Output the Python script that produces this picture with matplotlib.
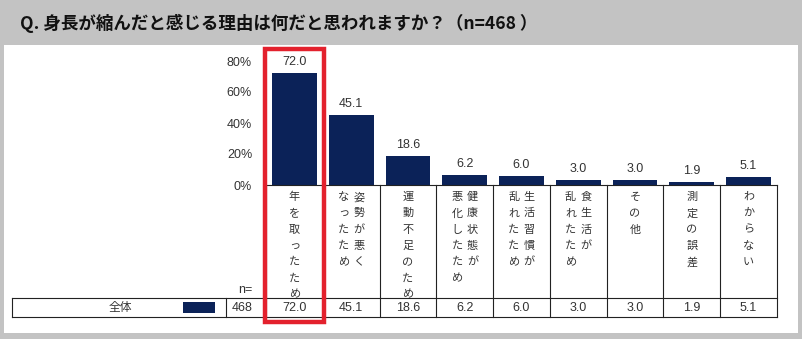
import matplotlib
matplotlib.use("Agg")
import matplotlib.pyplot as plt
import matplotlib.transforms as mtransforms
from matplotlib.patches import Rectangle

plt.rcParams["font.family"] = ["Liberation Sans", "Noto Sans CJK JP"]

title = "Q. 身長が縮んだと感じる理由は何だと思われますか？（n=468 ）"
# vertical labels: each line is one text column, read right to left
labels = ["年を取ったため", "姿勢が悪く\nなったため", "運動不足のため", "健康状態が\n悪化したため",
          "生活習慣が\n乱れたため", "食生活が\n乱れたため", "その他", "測定の誤差", "わからない"]
values = [72.0, 45.1, 18.6, 6.2, 6.0, 3.0, 3.0, 1.9, 5.1]
yticks = [0, 20, 40, 60, 80]
row_name = "全体"
n_total = 468

W, H = 803, 339
navy = "#0b2258"
txt = "#333333"

fig = plt.figure(figsize=(W / 100, H / 100), dpi=100, facecolor="#c3c3c3")

# pixel overlay for panel and table
bg = fig.add_axes([0, 0, 1, 1], zorder=0)
bg.set_xlim(0, W)
bg.set_ylim(H, 0)
bg.axis("off")
bg.add_patch(Rectangle((4, 45), 794, 288, facecolor="white", edgecolor="none"))
bg.text(20, 23, title, fontsize=12.6, fontweight="bold", color="#111111",
        va="center", ha="left", family=["Noto Sans CJK JP"])

# bar axes
x0, x1, y0, y80 = 266, 777, 185, 61
ax = fig.add_axes([x0 / W, (H - y0) / H, (x1 - x0) / W, (y0 - y80) / H], zorder=1)
ax.set_facecolor("none")
xs = list(range(len(values)))
ax.bar(xs, values, width=0.79, color=navy)
ax.set_xlim(-0.5, len(values) - 0.5)
ax.set_ylim(0, 80)
ax.set_yticks(yticks)
ax.set_yticklabels([f"{t}%" for t in yticks], fontsize=9, color=txt)
ax.tick_params(axis="y", length=0, pad=10)
ax.set_xticks([])
for s in ["top", "right", "left"]:
    ax.spines[s].set_visible(False)
ax.spines["bottom"].set_color("#222222")
ax.spines["bottom"].set_linewidth(0.8)

for x, v in zip(xs, values):
    ax.annotate(f"{v:.1f}", (x, v), xytext=(0, 8), textcoords="offset points",
                ha="center", va="center", fontsize=9, color=txt)

# x in data, y in pixels
blend = mtransforms.blended_transform_factory(ax.transData, bg.transData)

# vertical category labels
step = 16.3
colgap = 0.27
for x, lab in zip(xs, labels):
    cols = lab.split("\n")
    k = len(cols)
    for j, col in enumerate(cols):
        dx = (k - 1) / 2 * colgap - j * colgap
        for m, ch in enumerate(col):
            bg.text(x + dx, 197 + m * step, ch, transform=blend, ha="center", va="center",
                    fontsize=8, color=txt, family=["Noto Sans CJK JP"])

# table lines
lc = "#222222"
for i in range(len(values) + 1):
    bg.plot([i - 0.5, i - 0.5], [y0, 317], transform=blend, color=lc, lw=0.8)
for yy in [298, 317]:
    bg.plot([12, 777], [yy, yy], color=lc, lw=0.8)
bg.plot([12, 12], [298, 317], color=lc, lw=0.8)
bg.plot([226, 226], [298, 317], color=lc, lw=0.8)

bg.text(120, 308, row_name, ha="center", va="center", fontsize=8.5, color=txt,
        family=["Noto Sans CJK JP"])
bg.add_patch(Rectangle((183, 302), 32, 11, facecolor=navy, edgecolor="none"))
bg.text(242, 308, str(n_total), ha="center", va="center", fontsize=9, color=txt)
bg.text(245, 290, "n=", ha="center", va="center", fontsize=9, color=txt)
for x, v in zip(xs, values):
    bg.text(x, 308, f"{v:.1f}", transform=blend, ha="center", va="center",
            fontsize=9, color=txt)

# red highlight around first category
red = Rectangle((-0.52, 49), 1.04, 273, transform=blend, facecolor="none",
                edgecolor="#e3212d", lw=3.2, clip_on=False, zorder=5)
ax.add_patch(red)

fig.savefig("out.png", dpi=100, facecolor=fig.get_facecolor())
